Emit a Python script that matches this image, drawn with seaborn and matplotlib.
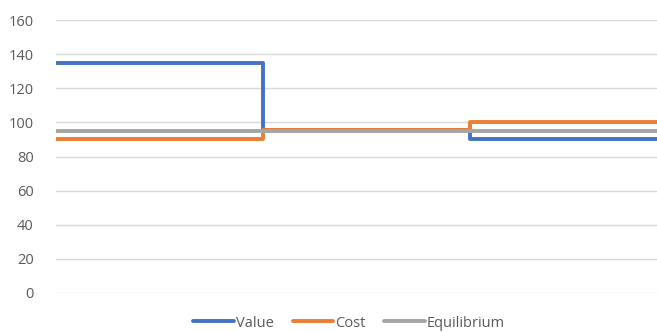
import numpy as np
import pandas as pd
import matplotlib
matplotlib.use("Agg")
import matplotlib.pyplot as plt
import seaborn as sns

sns.set_theme(style="white")
plt.rcParams['font.family'] = ['Open Sans', 'DejaVu Sans']

# step breakpoints (quantity) and the level of each series from that point on
x_steps = [0, 1, 2, 2.9]
value = [135, 95.6, 90, 90]
cost = [90, 95.6, 100, 100]
equilibrium = [95, 95, 95, 95]
series_names = ["Value", "Cost", "Equilibrium"]
colors = ["#4472C4", "#ED7D31", "#A5A5A5"]
y_ticks = [0, 20, 40, 60, 80, 100, 120, 140, 160]

df = pd.DataFrame({
    "x": x_steps * 3,
    "y": value + cost + equilibrium,
    "series": np.repeat(series_names, len(x_steps)),
})

fig = plt.figure(figsize=(6.57, 3.32), dpi=100)
ax = fig.add_axes([56 / 657, 1 - 293 / 332, 1 - 56 / 657, (293 - 20) / 332])

sns.lineplot(data=df, x="x", y="y", hue="series", palette=colors,
             hue_order=series_names, drawstyle="steps-post", linewidth=2.8,
             ax=ax, legend=True)

ax.set_xlim(0, 2.9)
ax.set_ylim(0, 160)
ax.set_yticks(y_ticks)
ax.set_xticks([])
ax.set_xlabel("")
ax.set_ylabel("")
ax.grid(axis="y", color="#D9D9D9", linewidth=1)
ax.set_axisbelow(True)
for s in ax.spines.values():
    s.set_visible(False)
ax.tick_params(axis="y", length=0, pad=16, labelsize=10.5, labelcolor="#595959")
for lab in ax.get_yticklabels():
    lab.set_horizontalalignment("right")

handles, labels = ax.get_legend_handles_labels()
for h in handles:
    h.set_linewidth(2.8)
ax.legend(handles, labels, loc="center", bbox_to_anchor=((349 - 56) / 601, -0.11),
          ncol=3, frameon=False, fontsize=10.5, handlelength=2.8,
          handletextpad=0.1, columnspacing=1.3, labelcolor="#595959")

fig.savefig("out.png", dpi=100)
